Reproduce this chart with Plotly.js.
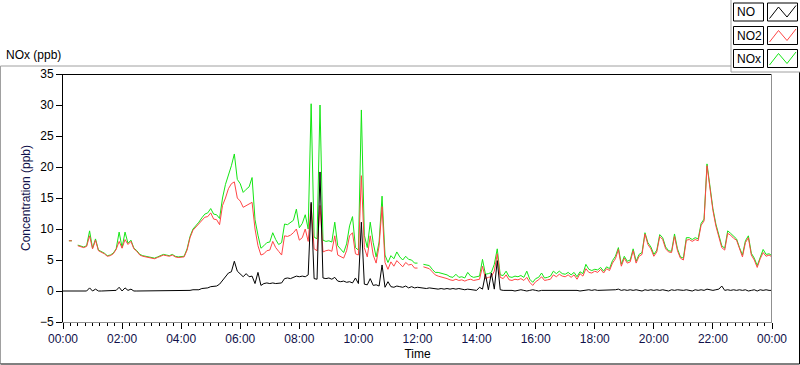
<!DOCTYPE html>
<html><head><meta charset="utf-8">
<script src="https://cdn.plot.ly/plotly-3.0.1.min.js"></script>
<style>html,body{margin:0;padding:0;background:#fff;overflow:hidden}#chart{width:800px;height:365px}</style>
</head><body><div id="chart"></div>
<script>
// ---- data (one value every 6 minutes, 00:00 .. 24:00) ----
const seriesNames = ['NO', 'NO2', 'NOx'];
const stepMinutes = 6;

const NO2 = [
 8.2,null,8.1,8.1,null,7.3,7.1,7.0,7.2,8.9,
 6.8,8.2,6.5,6.3,6.0,5.6,5.7,6.0,6.7,8.0,
 6.9,8.3,7.5,8.0,6.8,6.4,5.8,5.6,5.5,5.4,
 5.3,5.2,5.4,5.6,5.8,5.7,5.6,5.8,5.5,5.4,
 5.4,5.5,6.6,8.6,9.8,10.3,10.8,11.3,11.9,12.0,
 12.6,11.6,11.5,10.7,13.8,15.0,16.5,17.3,17.6,15.0,
 14.5,13.5,13.8,14.0,14.3,10.0,7.3,5.8,6.0,6.5,
 6.6,8.0,7.0,6.4,5.8,8.9,8.8,9.0,9.4,10.0,
 8.2,8.6,10.0,8.0,14.0,6.8,6.5,13.8,6.3,6.5,
 6.6,6.4,8.9,5.8,5.5,5.3,6.5,8.9,9.4,6.0,
 5.8,18.6,7.0,5.5,8.9,5.8,4.5,7.3,13.6,4.6,
 3.5,4.7,4.0,4.9,4.4,3.9,4.6,4.2,4.3,3.7,
 3.7,null,3.9,3.7,3.6,3.1,2.6,2.4,2.3,2.1,
 2.0,1.8,1.7,1.9,1.7,1.8,1.6,1.8,1.9,1.7,
 1.8,1.9,4.0,2.0,2.2,2.3,3.2,6.0,2.2,2.0,
 2.6,1.8,1.7,1.9,1.8,2.0,1.7,2.2,1.4,0.9,
 1.5,1.8,2.3,1.7,1.8,1.9,2.6,2.3,2.7,2.4,
 2.3,2.6,2.2,2.6,1.9,2.8,2.4,3.6,3.0,2.9,
 3.2,3.0,3.5,2.9,3.6,3.3,4.5,5.2,6.7,4.0,
 5.3,4.5,4.7,6.5,4.5,5.6,5.9,9.2,7.5,6.8,
 5.6,6.3,8.8,8.3,6.8,6.3,6.2,8.8,6.5,5.3,
 5.0,8.2,8.3,8.0,8.3,8.1,10.6,11.3,20.2,16.5,
 13.0,10.5,8.5,7.0,6.6,9.3,9.0,8.5,8.2,6.8,
 5.5,7.8,8.6,5.8,5.0,3.8,5.2,6.2,5.6,5.8,
 5.5
];

const NOx = [
 8.2,null,8.1,8.1,null,7.4,7.2,7.1,7.3,9.7,
 6.9,8.4,6.6,6.4,6.1,5.7,5.8,6.1,6.8,9.5,
 7.0,9.5,7.7,8.2,6.9,6.5,5.9,5.7,5.6,5.5,
 5.4,5.3,5.5,5.7,5.9,5.8,5.7,5.9,5.6,5.5,
 5.5,5.6,6.8,8.8,10.0,10.5,11.1,11.8,12.4,12.6,
 13.3,12.4,12.3,11.7,15.0,17.2,18.6,20.2,22.1,18.0,
 17.3,15.9,16.4,16.8,18.3,11.5,9.0,6.9,7.3,7.8,
 7.9,9.4,8.3,7.5,7.8,10.8,10.7,11.0,11.4,13.2,
 10.2,10.9,12.3,10.0,30.2,8.7,8.4,30.0,8.2,8.0,
 8.1,7.9,11.1,7.3,6.8,6.2,7.6,10.5,12.0,7.0,
 6.6,29.2,9.0,7.0,11.1,7.8,5.5,7.9,15.3,5.8,
 4.6,5.7,5.2,6.3,5.5,5.0,5.6,5.1,5.0,4.5,
 4.5,null,4.3,4.2,4.1,3.5,3.0,3.0,2.9,2.7,
 2.6,2.3,2.2,2.7,2.2,2.3,2.1,3.0,2.4,2.2,
 2.3,2.4,5.1,2.7,2.8,3.0,4.3,6.8,2.6,2.5,
 3.2,2.3,2.2,2.4,2.3,2.5,2.2,3.2,1.9,1.4,
 2.0,2.2,2.9,2.1,2.2,2.4,3.2,2.8,3.2,2.8,
 2.7,3.0,2.6,3.0,2.3,3.1,2.8,4.3,3.5,3.3,
 3.5,3.4,3.8,3.2,3.9,3.6,4.9,5.6,7.0,4.3,
 5.6,4.8,5.0,6.8,4.8,5.9,6.2,9.4,7.8,7.1,
 5.9,6.6,9.1,8.6,7.1,6.5,6.4,9.2,6.8,5.5,
 5.3,8.6,8.6,8.3,8.6,8.4,10.9,11.6,20.5,16.8,
 13.3,10.8,8.8,7.3,6.9,9.7,9.3,8.8,8.4,7.0,
 5.8,8.1,8.9,6.1,5.3,4.1,5.5,6.7,5.9,6.0,
 5.7
];

const NO = [
 0.0,0.0,0.1,0.0,0.0,0.0,0.0,0.1,0.0,0.5,
 0.0,0.3,0.0,0.0,0.0,0.0,0.0,0.0,0.1,0.6,
 0.0,0.5,0.1,0.3,0.0,0.0,0.0,0.0,0.0,0.0,
 0.0,0.0,0.0,0.0,0.0,0.0,0.0,0.0,0.0,0.0,
 0.0,0.0,0.1,0.1,0.2,0.2,0.2,0.4,0.4,0.5,
 0.7,0.8,0.8,1.1,1.7,2.4,2.9,3.1,4.8,3.2,
 2.7,2.3,2.8,2.3,2.4,1.2,3.0,0.9,1.2,1.3,
 1.2,1.3,1.2,1.2,1.3,2.0,2.1,2.0,2.2,2.4,
 2.3,2.4,2.3,2.6,14.3,2.0,1.9,19.2,2.1,2.0,
 2.1,1.9,2.2,1.6,1.5,1.6,1.4,1.5,1.3,2.1,
 1.2,11.1,1.1,1.0,2.0,0.9,1.0,0.8,4.2,0.6,
 1.5,0.7,0.6,0.8,0.7,0.6,0.8,0.5,0.7,0.5,
 0.6,0.5,0.5,0.4,0.5,0.4,0.4,0.3,0.4,0.3,
 0.4,0.3,0.4,0.3,0.4,0.3,0.2,0.3,0.2,0.1,
 0.1,0.6,0.3,2.7,0.2,2.9,0.3,4.9,0.2,0.1,
 0.1,0.2,0.1,0.0,0.1,0.2,0.1,0.0,0.1,0.2,
 0.1,0.0,0.1,0.1,0.2,0.1,0.1,0.2,0.1,0.1,
 0.1,0.1,0.2,0.1,0.1,0.0,0.1,0.1,0.2,0.1,
 0.2,0.1,0.1,0.2,0.1,0.2,0.1,0.2,0.3,0.1,
 0.2,0.1,0.2,0.1,0.2,0.1,0.0,0.2,0.1,0.2,
 0.1,0.2,0.1,0.2,0.1,0.0,0.2,0.1,0.2,0.1,
 0.1,0.2,0.1,0.0,0.2,0.1,0.2,0.1,0.3,0.2,
 0.1,0.2,0.3,0.8,0.1,0.2,0.1,0.2,0.1,0.2,
 0.1,0.2,0.0,0.1,0.2,0.0,0.2,0.1,0.2,0.1,
 0.1
];

const yTickVals = [-5, 0, 5, 10, 15, 20, 25, 30, 35];
const chartTitle = 'NOx (ppb)';
const xTitle = 'Time';
const yTitle = 'Concentration (ppb)';

// ---- time axis ----
function pad(n){ return (n < 10 ? '0' : '') + n; }
function stamp(min){
  const d = Math.floor(min / 1440), r = min % 1440;
  return '2000-01-0' + (1 + d) + ' ' + pad(Math.floor(r / 60)) + ':' + pad(r % 60);
}
const times = NO2.map((_, i) => stamp(i * stepMinutes));

// ---- geometry helpers (pixel -> paper) ----
const M = {l: 63, r: 28, t: 74, b: 43};
const W = 800, H = 365;
const PW = W - M.l - M.r, PH = H - M.t - M.b;
const px = x => (x - M.l) / PW;
const py = y => (H - M.b - y) / PH;

const colors = {NO: '#000000', NO2: '#ff4545', NOx: '#14e614'};
const font = 'Liberation Sans, Arial, sans-serif';

const traces = [
  {x: times, y: NOx, name: 'NOx', type: 'scatter', mode: 'lines', line: {color: colors.NOx, width: 1}, connectgaps: false},
  {x: times, y: NO2, name: 'NO2', type: 'scatter', mode: 'lines', line: {color: colors.NO2, width: 1}, connectgaps: false},
  {x: times, y: NO,  name: 'NO',  type: 'scatter', mode: 'lines', line: {color: colors.NO, width: 1}, connectgaps: false}
];

const shapes = [];
const annotations = [];
function line(x0, y0, x1, y1, color){
  shapes.push({type: 'line', xref: 'paper', yref: 'paper', x0: px(x0), y0: py(y0), x1: px(x1), y1: py(y1), line: {color: color, width: 1}});
}
// outer panel
line(0.5, 66, 731, 66, '#a0a0a0');
line(0.5, 66, 0.5, 364, '#a0a0a0');
line(0.5, 364, 799.5, 364, '#000000');
line(799.5, 72, 799.5, 364, '#000000');
// legend panel
line(731, 0, 731, 72, '#a0a0a0');
line(731, 72, 800, 72, '#a0a0a0');
// plot frame (top dark, right light)
line(63, 74.5, 772, 74.5, '#000000');
line(771.5, 74, 771.5, 322, '#909090');

// legend rows
const legendRows = [{name: 'NO', top: 3}, {name: 'NO2', top: 26.5}, {name: 'NOx', top: 49.5}];
legendRows.forEach(r => {
  shapes.push({type: 'rect', xref: 'paper', yref: 'paper', x0: px(733.5), x1: px(763.5), y0: py(r.top), y1: py(r.top + 18),
    line: {color: '#000', width: 1}, fillcolor: '#ffffff'});
  shapes.push({type: 'rect', xref: 'paper', yref: 'paper', x0: px(767.5), x1: px(797.5), y0: py(r.top), y1: py(r.top + 18),
    line: {color: '#000', width: 1}, fillcolor: '#ffffff'});
  const pts = [[769.5, r.top + 15.5], [778.5, r.top + 4], [787, r.top + 14], [796, r.top + 2.5]];
  shapes.push({type: 'path', xref: 'paper', yref: 'paper',
    path: 'M ' + pts.map(p => px(p[0]) + ',' + py(p[1])).join(' L '),
    line: {color: colors[r.name], width: 1}});
  annotations.push({xref: 'paper', yref: 'paper', x: px(735), y: py(r.top + 9.5), xanchor: 'left', yanchor: 'middle',
    text: r.name, showarrow: false, font: {family: font, size: 12, color: '#000'}});
});
annotations.push({xref: 'paper', yref: 'paper', x: px(4), y: py(55), xanchor: 'left', yanchor: 'middle',
  text: chartTitle, showarrow: false, font: {family: font, size: 12, color: '#000'}});

const layout = {
  width: W, height: H,
  margin: M,
  paper_bgcolor: '#ffffff', plot_bgcolor: '#ffffff',
  showlegend: false,
  font: {family: font, size: 12, color: '#000'},
  xaxis: {
    type: 'date',
    range: [stamp(0), stamp(1440)],
    tick0: stamp(0), dtick: 2 * 3600 * 1000,
    tickformat: '%H:%M',
    ticks: 'outside', ticklen: 6, tickcolor: '#000', tickwidth: 1,
    minor: {dtick: 15 * 60 * 1000, ticks: 'outside', ticklen: 3, tickcolor: '#000', showgrid: false},
    showgrid: false, zeroline: false,
    showline: true, linecolor: '#909090', linewidth: 1,
    tickfont: {family: font, size: 12, color: '#10104a'},
    title: {text: xTitle, font: {family: font, size: 12, color: '#000'}, standoff: 4}
  },
  yaxis: {
    range: [-5, 35],
    tickvals: yTickVals,
    ticks: 'outside', ticklen: 6, tickcolor: '#000', tickwidth: 1,
    showgrid: false, zeroline: false,
    showline: true, linecolor: '#000', linewidth: 1,
    tickfont: {family: font, size: 12, color: '#000'},
    title: {text: yTitle, font: {family: font, size: 12, color: '#10104a'}, standoff: 6}
  },
  shapes: shapes,
  annotations: annotations
};

Plotly.newPlot('chart', traces, layout, {staticPlot: true, displayModeBar: false});
</script>
</body></html>
